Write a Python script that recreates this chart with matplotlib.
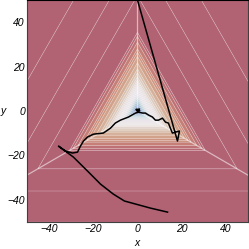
import matplotlib
matplotlib.use('Agg')
import matplotlib.pyplot as plt
import numpy as np

plt.rcParams['font.family'] = ['Liberation Sans', 'DejaVu Sans']

# contour levels of the max-of-three-planes function, read from the seams
levels = [0, 0.5, 1, 1.5, 2, 2.5, 3, 3.5, 4, 4.5, 5, 5.5, 6, 6.5, 7, 7.7,
          8.6, 9.5, 10.9, 12.3, 13.2, 14, 15.5, 16.8, 17.7, 26, 36, 50, 70]

# trajectory from the top
path_a_x = [0, 18.1, 19.0, 15.8, 14.9, 14.0, 12.7, 11.3, 9.5, 8.1, 6.8, 5.0,
            3.6, 2.3, 0.5, -0.5, 1.0, 0.0]
path_a_y = [50, -13.5, -9.0, -9.9, -7.7, -5.4, -5.0, -3.2, -4.1, -4.1, -2.7,
            -1.8, -0.9, -0.9, -0.5, 0.8, 0.2, 0.3]

# trajectory from the bottom
path_b_x = [13.6, 5.9, -5.9, -10.9, -16.7, -22.6, -29.0, -35.7, -32.6, -29.4,
            -27.1, -25.8, -24.4, -22.6, -19.9, -15.4, -12.2, -10.0, -7.7,
            -4.1, -0.9, 0.5, -0.6, 0.9, 0.1]
path_b_y = [-45.5, -43.7, -40.5, -37.4, -32.9, -27.0, -20.7, -15.8, -18.0,
            -18.9, -18.5, -15.8, -13.5, -11.7, -10.4, -9.9, -7.7, -5.4, -4.1,
            -2.7, -0.9, -0.5, 0.6, 0.9, -0.2]

ticks = [-40, -20, 0, 20, 40]

# plane normals of f(p) = max_i n_i . p
angles = np.deg2rad([150, 30, 270])
normals = np.column_stack([np.cos(angles), np.sin(angles)])

xs = np.linspace(-50, 50, 501)
X, Y = np.meshgrid(xs, xs)
F = np.max([n[0] * X + n[1] * Y for n in normals], axis=0)

# colour position in the colormap against f (band midpoints)
f_anchor = [0, 1.5, 3, 4.5, 7, 10, 14, 18]
c_anchor = [0.15, 0.3, 0.43, 0.5, 0.55, 0.63, 0.72, 0.8]
cmap = plt.get_cmap('twilight_shifted')
mids = 0.5 * (np.array(levels[:-1]) + np.array(levels[1:]))
band_colors = [cmap(p) for p in np.interp(mids, f_anchor, c_anchor)]

fig = plt.figure(figsize=(2.49, 2.49), dpi=100)
ax = fig.add_axes([0.108, 0.108, 0.888, 0.892])

ax.contourf(X, Y, F, levels=levels, colors=band_colors, alpha=0.8,
            antialiased=True)
ax.contour(X, Y, F, levels=levels[1:], colors='white', linewidths=0.5,
           alpha=0.35)

# kinks of f: rays where two planes meet
for i in range(3):
    d = normals[i] + normals[(i + 1) % 3]
    d = d / np.linalg.norm(d)
    ax.plot([0, 80 * d[0]], [0, 80 * d[1]], color='white', lw=0.9,
            alpha=0.55)

ax.plot(path_a_x, path_a_y, color='black', lw=1.1)
ax.plot(path_b_x, path_b_y, color='black', lw=1.1)

ax.set_xlim(-50, 50)
ax.set_ylim(-50, 50)
ax.set_xticks(ticks)
ax.set_yticks(ticks)
ax.tick_params(length=0, labelsize=7.5, pad=1.5)
for lab in ax.get_xticklabels() + ax.get_yticklabels():
    lab.set_fontstyle('italic')
for sp_ in ax.spines.values():
    sp_.set_color('0.25')
ax.spines['top'].set_color('black')
ax.set_xlabel('x', fontsize=7.5, style='italic')
ax.xaxis.set_label_coords(0.5, -0.07)
ax.set_ylabel('y', fontsize=7.5, style='italic', rotation=0, va='center',
              ha='center')
ax.yaxis.set_label_coords(-0.105, 0.5)

fig.savefig('out.png', dpi=100)
